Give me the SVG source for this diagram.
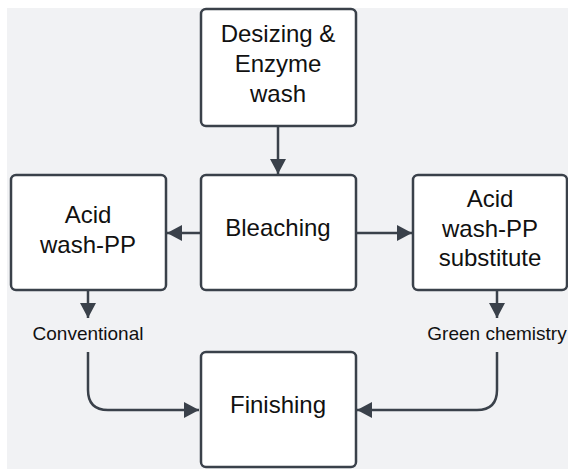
<svg xmlns="http://www.w3.org/2000/svg" width="568" height="469" viewBox="0 0 568 469">
<style>
.box{fill:#ffffff;stroke:#3a414a;stroke-width:2.5}
.t{font-family:"Liberation Sans",Arial,sans-serif;font-size:24px;fill:#111;text-anchor:middle}
.s{font-family:"Liberation Sans",Arial,sans-serif;font-size:19px;fill:#111;text-anchor:middle}
.c{fill:none;stroke:#3a414a;stroke-width:2.5}
</style>
<defs>
<marker id="ah" markerUnits="userSpaceOnUse" markerWidth="18" markerHeight="18" viewBox="0 0 18 18" refX="16" refY="9" orient="auto">
<path d="M1,1 L16,9 L1,17 Z" fill="#3a414a"/>
</marker>
</defs>
<rect x="7" y="8" width="561" height="461" fill="#f1f2f4"/>
<g id="connectors">
<line class="c" x1="278" y1="127" x2="278" y2="174" marker-end="url(#ah)"/>
<line class="c" x1="201" y1="233" x2="167" y2="233" marker-end="url(#ah)"/>
<line class="c" x1="355" y1="233" x2="412" y2="233" marker-end="url(#ah)"/>
<line class="c" x1="88" y1="291" x2="88" y2="318" marker-end="url(#ah)"/>
<line class="c" x1="497" y1="291" x2="497" y2="318" marker-end="url(#ah)"/>
<path class="c" d="M88,352 L88,390 Q88,410 108,410 L199,410" marker-end="url(#ah)"/>
<path class="c" d="M497,352 L497,390 Q497,410 477,410 L357,410" marker-end="url(#ah)"/>
</g>
<g id="desizing">
<rect class="box" x="201" y="9" width="155" height="117" rx="5"/>
<text class="t" x="278" y="42">Desizing &amp;</text>
<text class="t" x="278" y="72">Enzyme</text>
<text class="t" x="278" y="102">wash</text>
</g>
<g id="bleaching">
<rect class="box" x="201" y="175" width="155" height="115" rx="5"/>
<text class="t" x="278" y="236">Bleaching</text>
</g>
<g id="acid">
<rect class="box" x="11" y="175" width="155" height="115" rx="5"/>
<text class="t" x="88" y="223">Acid</text>
<text class="t" x="88" y="253">wash-PP</text>
</g>
<g id="substitute">
<rect class="box" x="413" y="175" width="154" height="115" rx="5"/>
<text class="t" x="490" y="207">Acid</text>
<text class="t" x="490" y="237">wash-PP</text>
<text class="t" x="490" y="266">substitute</text>
</g>
<g id="conventional">
<text class="s" x="88" y="340">Conventional</text>
</g>
<g id="green">
<text class="s" x="497" y="340">Green chemistry</text>
</g>
<g id="finishing">
<rect class="box" x="201" y="352" width="155" height="115" rx="5"/>
<text class="t" x="278" y="413">Finishing</text>
</g>
</svg>
